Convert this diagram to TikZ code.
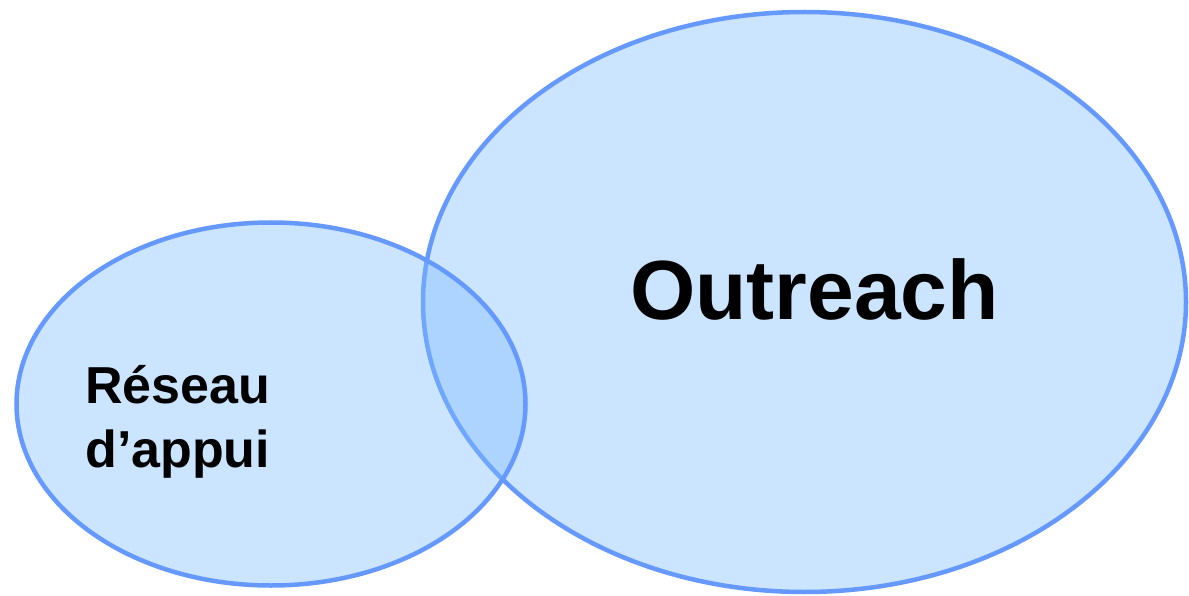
\documentclass[tikz,border=0pt]{standalone}
\usepackage{fontspec}
\setmainfont{Liberation Sans}
\usetikzlibrary{positioning}
\definecolor{rim}{HTML}{6699FF}
\definecolor{bulle}{RGB}{125,188,255}

\begin{document}
\begin{tikzpicture}[x=1pt, y=-1pt]
        \useasboundingbox (0,0) rectangle (1189,596);
        \begin{scope}[line width=4.5pt]
            \coordinate (grand) at (804.5,302);
            \coordinate (petit) at (271,404);
            \draw[rim, fill=bulle, fill opacity=0.4] (grand) ellipse[x radius=381.5, y radius=290];
            \draw[rim, fill=bulle, fill opacity=0.4] (petit) ellipse[x radius=254.5, y radius=181.5];
            \node[anchor=base west, inner sep=0, font=\fontsize{84}{100}\selectfont\bfseries] (outreach) at (628,319) {Outreach};
            \node[anchor=base west, inner sep=0, font=\fontsize{52}{64}\selectfont\bfseries] (reseau) at (83,403) {Réseau};
            \node[anchor=base west, inner sep=0, font=\fontsize{52}{64}\selectfont\bfseries] (appui) at (83,467) {d’appui};
        \end{scope}
    \end{tikzpicture}
\end{document}
